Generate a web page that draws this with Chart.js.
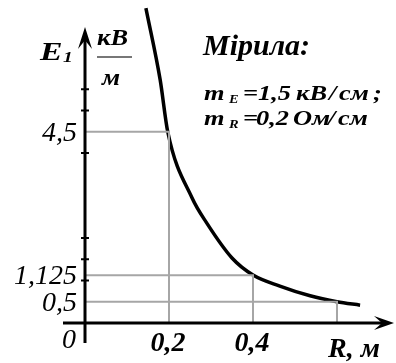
<!DOCTYPE html>
<html>
<head>
<meta charset="utf-8">
<script src="https://cdn.jsdelivr.net/npm/chart.js@4/dist/chart.umd.min.js"></script>
<style>
  html, body { margin: 0; padding: 0; background: #fff; }
  canvas { display: block; }
</style>
</head>
<body>
<canvas id="fieldChart" width="396" height="363"></canvas>
<script>
// E1(R) curve, kV/m against m
const curveR = [0.145, 0.179, 0.197, 0.255, 0.29, 0.35, 0.4, 0.464, 0.536, 0.6, 0.655];
const curveE = [7.41, 5.72, 4.5, 2.94, 2.35, 1.53, 1.13, 0.87, 0.64, 0.5, 0.42];

// reading lines down to the axes
const guideR = [0.2, 0.4, 0.6];
const guideE = [4.5, 1.125, 0.5];
const guideLabelsE = ['4,5', '1,125', '0,5'];
const guideLabelsR = ['0,2', '0,4'];

// small marks on the E axis
const minorTicksE = [1, 1.5, 2, 4, 5, 5.5];

const SERIF = '"Liberation Serif", "DejaVu Serif", serif';

const guideSets = guideR.map((r, i) => ({
  data: [
    { x: 0, y: guideE[i] },
    { x: r, y: guideE[i] },
    { x: r, y: 0 },
  ],
  borderColor: '#a6a6a6',
  borderWidth: 2,
  pointRadius: 0,
  tension: 0,
}));

const curveSet = {
  data: curveR.map((r, i) => ({ x: r, y: curveE[i] })),
  borderColor: '#000',
  borderWidth: 3.5,
  pointRadius: 0,
  cubicInterpolationMode: 'monotone',
  clip: false,
};

function arrowHead(ctx, tipX, tipY, dirX, dirY, len, half) {
  // barbed arrow head pointing along (dirX, dirY)
  const nx = -dirY;
  const ny = dirX;
  const bx = tipX - dirX * len;
  const by = tipY - dirY * len;
  ctx.beginPath();
  ctx.moveTo(tipX, tipY);
  ctx.lineTo(bx + nx * half, by + ny * half);
  ctx.lineTo(tipX - dirX * len * 0.6, tipY - dirY * len * 0.6);
  ctx.lineTo(bx - nx * half, by - ny * half);
  ctx.closePath();
  ctx.fill();
}

// text drawn piece by piece, widened a bit: [text, x, font size, baseline shift]
function drawPieces(ctx, pieces, y, stretch) {
  pieces.forEach(([t, x, size, dy]) => {
    ctx.save();
    ctx.font = 'bold italic ' + size + 'px ' + SERIF;
    ctx.translate(x, y + dy);
    ctx.scale(stretch, 1);
    ctx.fillText(t, 0, 0);
    ctx.restore();
  });
}

const axesPlugin = {
  id: 'axesPlugin',
  afterDatasetsDraw(chart) {
    const ctx = chart.ctx;
    const xs = chart.scales.x;
    const ys = chart.scales.y;
    const x0 = xs.getPixelForValue(0);
    const y0 = ys.getPixelForValue(0);

    ctx.save();
    ctx.strokeStyle = '#000';
    ctx.fillStyle = '#000';
    ctx.lineCap = 'butt';

    // axis lines
    ctx.lineWidth = 3;
    ctx.beginPath();
    ctx.moveTo(x0, 343);
    ctx.lineTo(x0, 38);
    ctx.moveTo(63, y0);
    ctx.lineTo(385, y0);
    ctx.stroke();
    arrowHead(ctx, x0, 27, 0, -1, 22, 7);
    arrowHead(ctx, 394, y0, 1, 0, 20, 7);

    // minor ticks on E axis
    ctx.lineWidth = 2;
    ctx.beginPath();
    minorTicksE.forEach((v) => {
      const y = ys.getPixelForValue(v);
      ctx.moveTo(x0 - 4, y);
      ctx.lineTo(x0 + 4, y);
    });
    ctx.stroke();

    // E axis values
    ctx.font = 'italic 28px ' + SERIF;
    ctx.textAlign = 'right';
    ctx.textBaseline = 'alphabetic';
    guideE.forEach((v, i) => {
      ctx.fillText(guideLabelsE[i], 77, ys.getPixelForValue(v) + 9);
    });
    ctx.fillText('0', 76, 348);

    // R axis values
    ctx.font = 'bold italic 28px ' + SERIF;
    ctx.textAlign = 'center';
    guideLabelsR.forEach((t, i) => {
      ctx.fillText(t, xs.getPixelForValue(guideR[i]) - 1, 351);
    });
    ctx.textAlign = 'left';
    ctx.fillText('R, м', 328, 357);

    // E axis title with unit fraction
    drawPieces(ctx, [['E', 40, 26, 0], ['1', 63, 15, 2]], 60, 1.3);
    drawPieces(ctx, [['кВ', 97, 23, 0]], 45, 1.15);
    drawPieces(ctx, [['м', 102, 23, 0]], 85, 1.15);
    ctx.strokeStyle = '#777';
    ctx.lineWidth = 2;
    ctx.beginPath();
    ctx.moveTo(97, 57);
    ctx.lineTo(132, 57);
    ctx.stroke();

    // scales note
    ctx.font = 'bold italic 30px ' + SERIF;
    ctx.fillText('Мірила:', 203, 55);
    drawPieces(ctx, [
      ['m', 204, 22, 0], ['E', 229, 12, 3], ['=', 243, 22, 0],
      ['1,5', 258, 22, 0], ['кВ', 296, 22, 0], ['/', 329, 22, 0],
      ['см', 339, 22, 0], [';', 373, 22, 0],
    ], 100, 1.2);
    drawPieces(ctx, [
      ['m', 204, 22, 0], ['R', 229, 12, 3], ['=', 243, 22, 0],
      ['0,2', 256, 22, 0], ['Ом', 293, 22, 0], ['/', 328, 22, 0],
      ['см', 338, 22, 0],
    ], 125, 1.2);

    ctx.restore();
  },
};

new Chart(document.getElementById('fieldChart'), {
  type: 'scatter',
  data: { datasets: [...guideSets, curveSet] },
  options: {
    responsive: false,
    animation: false,
    showLine: true,
    layout: { padding: 0 },
    plugins: { legend: { display: false }, tooltip: { enabled: false } },
    scales: {
      x: { type: 'linear', min: -0.2024, max: 0.7405, display: false },
      y: { type: 'linear', min: -0.941, max: 7.6, display: false },
    },
  },
  plugins: [axesPlugin],
});
</script>
</body>
</html>
